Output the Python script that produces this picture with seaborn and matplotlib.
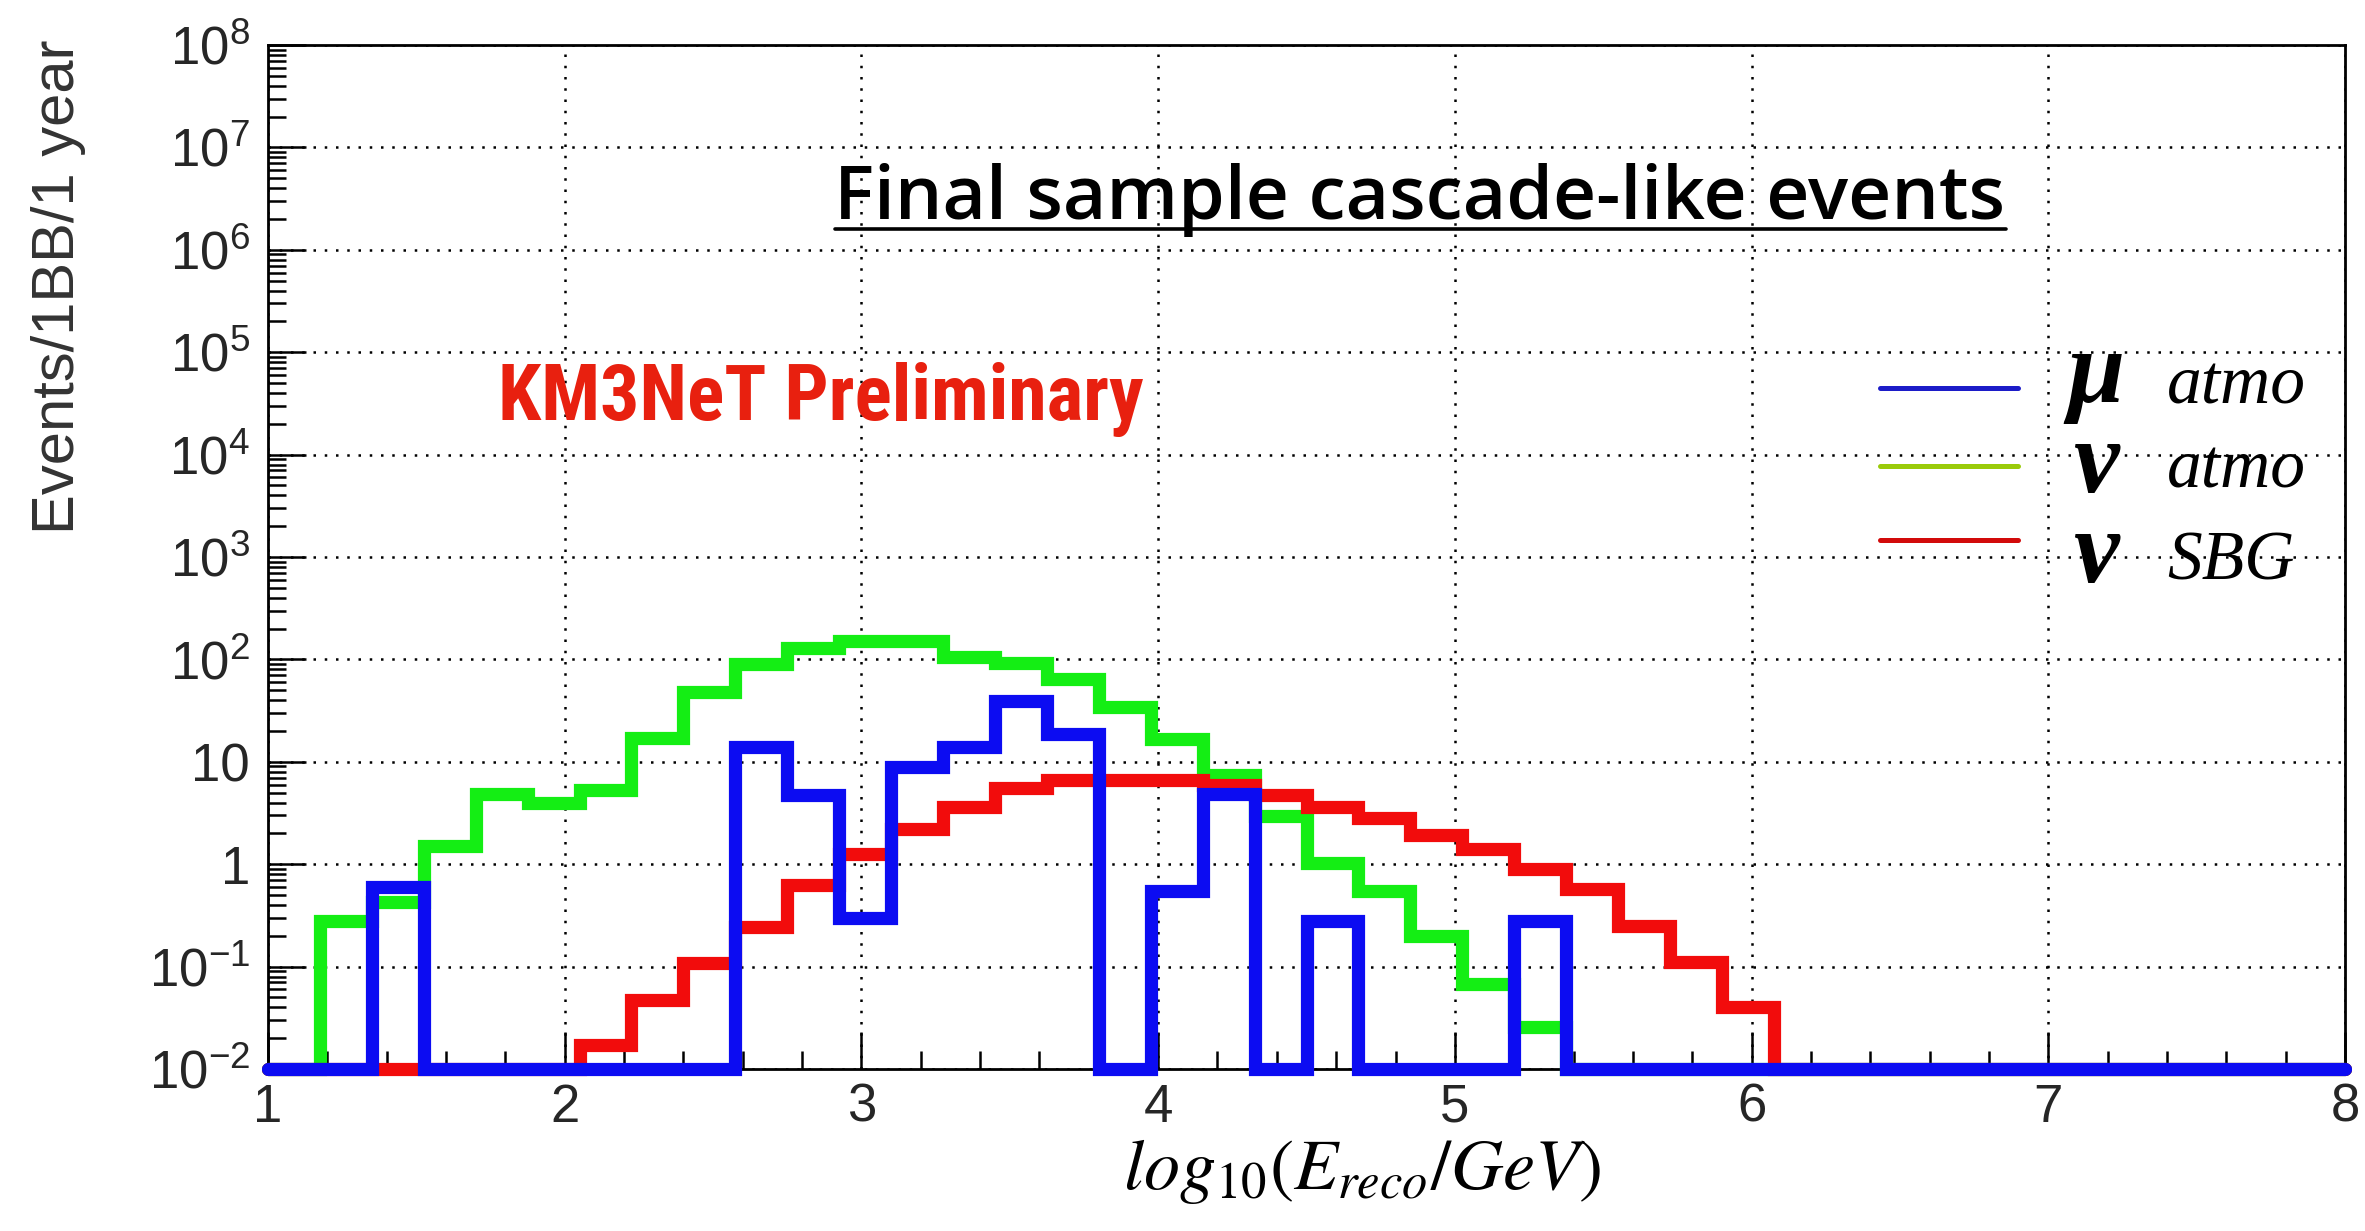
import numpy as np
import pandas as pd
import matplotlib
matplotlib.use("Agg")
import matplotlib.pyplot as plt
import seaborn as sns
from matplotlib.lines import Line2D
from matplotlib.ticker import LogLocator, MultipleLocator, NullFormatter
from matplotlib import font_manager
from matplotlib.font_manager import FontProperties

# 40 bins in log10(E_reco/GeV) from 1 to 8
bin_edges = [round(1.0 + 0.175 * i, 3) for i in range(41)]

# Events per bin (0 = empty bin)
nu_atmo = [0, 0.28, 0.43, 1.5, 4.9, 4.0, 5.3, 17.0, 48.0, 90.0,
           130.0, 150.0, 150.0, 105.0, 93.0, 65.0, 34.0, 16.6, 7.5, 2.95,
           1.02, 0.55, 0.2, 0.068, 0.026, 0, 0, 0, 0, 0,
           0, 0, 0, 0, 0, 0, 0, 0, 0, 0]
nu_sbg = [0, 0, 0, 0, 0, 0, 0.017, 0.047, 0.108, 0.245,
          0.62, 1.25, 2.2, 3.6, 5.5, 6.7, 6.7, 6.7, 6.0, 4.7,
          3.6, 2.8, 1.95, 1.4, 0.9, 0.57, 0.25, 0.11, 0.04, 0,
          0, 0, 0, 0, 0, 0, 0, 0, 0, 0]
mu_atmo = [0, 0, 0.6, 0, 0, 0, 0, 0, 0, 13.9,
           4.7, 0.3, 8.8, 14.0, 39.0, 18.6, 0, 0.55, 4.9, 0,
           0.28, 0, 0, 0, 0.28, 0, 0, 0, 0, 0,
           0, 0, 0, 0, 0, 0, 0, 0, 0, 0]

y_ticks = [1e-2, 1e-1, 1, 10, 1e2, 1e3, 1e4, 1e5, 1e6, 1e7, 1e8]
y_tick_labels = [r"$\mathdefault{10^{-2}}$", r"$\mathdefault{10^{-1}}$", "1", "10",
                 r"$\mathdefault{10^{2}}$", r"$\mathdefault{10^{3}}$", r"$\mathdefault{10^{4}}$",
                 r"$\mathdefault{10^{5}}$", r"$\mathdefault{10^{6}}$", r"$\mathdefault{10^{7}}$",
                 r"$\mathdefault{10^{8}}$"]
x_ticks = [1, 2, 3, 4, 5, 6, 7, 8]
x_tick_labels = ["1", "2", "3", "4", "5", "6", "7", "8"]

series_names = ["nu_atmo", "nu_sbg", "mu_atmo"]
series_colors = {"nu_atmo": "#14ee14", "nu_sbg": "#f20c0c", "mu_atmo": "#0c0cf2"}
legend_colors = {"mu_atmo": "#1c1cc8", "nu_atmo": "#9acb0a", "nu_sbg": "#d20a0a"}
legend_order = ["mu_atmo", "nu_atmo", "nu_sbg"]
legend_symbols = ["\u03bc", "\u03bd", "\u03bd"]
legend_words = ["atmo", "atmo", "SBG"]

Y_MIN, Y_MAX = 1e-2, 1e8

edges_arr = np.array(bin_edges)
centers = 0.5 * (edges_arr[:-1] + edges_arr[1:])
df = pd.DataFrame({"E": centers, "nu_atmo": nu_atmo, "nu_sbg": nu_sbg, "mu_atmo": mu_atmo})
# empty bins are drawn on the lower edge of the frame
for name in series_names:
    df[name + "_w"] = df[name].clip(lower=Y_MIN)

sns.set_theme(style="white")
plt.rcParams["font.family"] = ["Liberation Sans", "DejaVu Sans"]
plt.rcParams["mathtext.fontset"] = "stix"

installed = {f.name for f in font_manager.fontManager.ttflist}
narrow_font = next((n for n in ["Liberation Sans Narrow", "Roboto Condensed", "Roboto"]
                    if n in installed), "Liberation Sans")

W, H = 2365, 1231
fig = plt.figure(figsize=(W / 100, H / 100), dpi=100)
fig.patch.set_facecolor("white")
ax_l, ax_r, ax_t, ax_b = 268, 2345, 45, 1069
ax = fig.add_axes([ax_l / W, 1 - ax_b / H, (ax_r - ax_l) / W, (ax_b - ax_t) / H])
ax.set_yscale("log")

for z, name in enumerate(series_names):
    sns.histplot(data=df, x="E", weights=name + "_w", bins=bin_edges,
                 element="step", fill=False, color=series_colors[name], linewidth=9.5,
                 ax=ax, clip_on=False, zorder=3 + z, solid_joinstyle="miter")

ax.set_xlim(1, 8)
ax.set_ylim(Y_MIN, Y_MAX)

ax.set_yticks(y_ticks)
ax.set_yticklabels(y_tick_labels)
ax.yaxis.set_minor_locator(LogLocator(base=10, subs=np.arange(2, 10), numticks=200))
ax.yaxis.set_minor_formatter(NullFormatter())
ax.set_xticks(x_ticks)
ax.set_xticklabels(x_tick_labels)
ax.xaxis.set_minor_locator(MultipleLocator(0.2))

ax.tick_params(axis="both", which="major", direction="in", length=27, width=1.8,
               color="black", labelsize=38, labelcolor="#262626", left=True, bottom=True)
ax.tick_params(axis="both", which="minor", direction="in", length=13, width=1.8,
               color="black", left=True, bottom=True)
ax.tick_params(axis="y", which="major", pad=13)
ax.tick_params(axis="x", which="major", pad=10)

ax.grid(True, which="major", color="black", linestyle=(0, (1, 3.5)), linewidth=1.8)
ax.set_axisbelow(True)
for s in ax.spines.values():
    s.set_visible(True)
    s.set_color("black")
    s.set_linewidth(2)

ax.set_xlabel(r"$log_{10}(E_{reco}/GeV)$", fontsize=52, color="black", va="top")
ax.xaxis.set_label_coords((1362 - ax_l) / (ax_r - ax_l), (ax_b - 1137) / (ax_b - ax_t))
ax.set_ylabel("Events/1BB/1 year", fontsize=43, color="#333333")
ax.yaxis.set_label_coords((86 - ax_l) / (ax_r - ax_l), (ax_b - 287) / (ax_b - ax_t))

renderer = fig.canvas.get_renderer()

# Title with underline
title = fig.text(1420 / W, 1 - 219 / H, "Final sample cascade-like events",
                 ha="center", va="baseline", fontsize=54, fontweight="semibold",
                 family=["Open Sans", "DejaVu Sans"], color="black")
bb = title.get_window_extent(renderer)
uy = (H - 229) / H
fig.add_artist(Line2D([bb.x0 / W, bb.x1 / W], [uy, uy], transform=fig.transFigure,
                      color="black", linewidth=2.6))

fig.text(498 / W, 1 - 420 / H, "KM3NeT Preliminary", ha="left", va="baseline",
         fontsize=56, fontweight="bold", color="#e8200f", family=[narrow_font, "DejaVu Sans"])

# Legend: coloured keys, then the particle symbols stacked in one block and the labels
key_y = [388, 466, 540]
for name, ly in zip(legend_order, key_y):
    fig.add_artist(Line2D([1880 / W, 2018 / W], [1 - ly / H, 1 - ly / H],
                          transform=fig.transFigure, color=legend_colors[name], linewidth=3.6))

sym_size = 74
sym_font = FontProperties(family=["Liberation Serif", "DejaVu Serif"], weight="bold",
                          style="italic", size=sym_size)
_, lp_h, lp_d = renderer.get_text_width_height_descent("lp", sym_font, ismath=False)
row_gap = 90   # baseline-to-baseline distance of the symbol rows, in pixels
last_baseline = 582
fig.text(2096 / W, 1 - last_baseline / H, "\n".join(legend_symbols), ha="center",
         va="baseline", multialignment="center", fontproperties=sym_font, color="black",
         linespacing=(row_gap - lp_d) / (lp_h - lp_d))

word_y = [403, 487, 580]
for word, wy in zip(legend_words, word_y):
    fig.text(2167 / W, 1 - wy / H, word, ha="left", va="baseline", fontsize=50,
             fontstyle="italic", family=["Liberation Serif", "DejaVu Serif"], color="black")

fig.savefig("out.png", dpi=100, facecolor="white")
